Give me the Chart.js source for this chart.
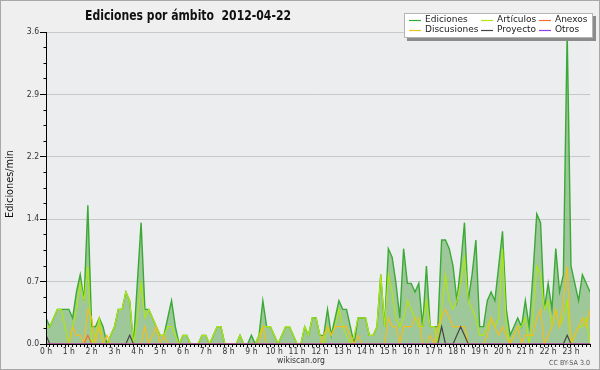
<!DOCTYPE html>
<html>
<head>
<meta charset="utf-8">
<script src="https://cdn.jsdelivr.net/npm/chart.js@4.4.1/dist/chart.umd.min.js"></script>
<style>
  html, body { margin: 0; padding: 0; background: #efefef; }
  #wrap { width: 600px; height: 370px; }
</style>
</head>
<body>
<div id="wrap"><canvas id="chart" width="600" height="370"></canvas></div>
<script>
// one value per 10 minutes, 2012-04-22 00:00 -> 23:50 (edits/min)
const ediciones = [
  0.3, 0.2, 0.3, 0.4, 0.4, 0.4, 0.4, 0.3, 0.6, 0.8, 0.5, 1.6,
  0.2, 0.2, 0.3, 0.2, 0.0, 0.1, 0.2, 0.4, 0.4, 0.6, 0.5, 0.0,
  0.7, 1.4, 0.4, 0.4, 0.3, 0.2, 0.1, 0.1, 0.3, 0.5, 0.2, 0.0,
  0.1, 0.1, 0.0, 0.0, 0.0, 0.1, 0.1, 0.0, 0.1, 0.2, 0.2, 0.0,
  0.0, 0.0, 0.0, 0.1, 0.0, 0.0, 0.1, 0.0, 0.1, 0.5, 0.2, 0.2,
  0.1, 0.0, 0.1, 0.2, 0.2, 0.1, 0.0, 0.0, 0.2, 0.1, 0.3, 0.3,
  0.1, 0.1, 0.4, 0.1, 0.3, 0.5, 0.4, 0.4, 0.2, 0.0, 0.3, 0.3,
  0.3, 0.1, 0.1, 0.2, 0.8, 0.2, 1.1, 1.0, 0.7, 0.3, 1.1, 0.7,
  0.7, 0.6, 0.7, 0.2, 0.9, 0.2, 0.2, 0.2, 1.2, 1.2, 1.1, 0.9,
  0.5, 0.9, 1.4, 0.5, 0.8, 1.2, 0.2, 0.2, 0.5, 0.6, 0.5, 0.9,
  1.3, 0.4, 0.1, 0.2, 0.3, 0.2, 0.5, 0.2, 0.8, 1.5, 1.4, 0.4,
  0.7, 0.4, 1.1, 0.6, 0.8, 3.6, 0.9, 0.7, 0.5, 0.8, 0.7, 0.6
];
const articulos = [
  0.2, 0.2, 0.3, 0.4, 0.4, 0.2, 0.0, 0.2, 0.4, 0.7, 0.5, 0.9,
  0.0, 0.1, 0.3, 0.0, 0.0, 0.1, 0.2, 0.4, 0.4, 0.6, 0.5, 0.0,
  0.3, 0.7, 0.3, 0.4, 0.3, 0.2, 0.1, 0.1, 0.2, 0.2, 0.1, 0.0,
  0.1, 0.1, 0.0, 0.0, 0.0, 0.1, 0.1, 0.0, 0.1, 0.2, 0.2, 0.0,
  0.0, 0.0, 0.0, 0.1, 0.0, 0.0, 0.0, 0.0, 0.1, 0.2, 0.2, 0.2,
  0.1, 0.0, 0.1, 0.2, 0.2, 0.1, 0.0, 0.0, 0.2, 0.1, 0.3, 0.3,
  0.1, 0.0, 0.2, 0.1, 0.2, 0.4, 0.2, 0.1, 0.0, 0.1, 0.3, 0.3,
  0.3, 0.1, 0.1, 0.2, 0.8, 0.2, 0.8, 0.6, 0.3, 0.2, 0.3, 0.5,
  0.4, 0.3, 0.2, 0.2, 0.5, 0.2, 0.2, 0.0, 0.4, 0.8, 0.5, 0.4,
  0.5, 0.7, 1.0, 0.5, 0.4, 0.3, 0.1, 0.1, 0.2, 0.3, 0.2, 0.3,
  1.1, 0.2, 0.0, 0.1, 0.2, 0.2, 0.3, 0.0, 0.3, 0.9, 0.8, 0.4,
  0.5, 0.2, 0.4, 0.2, 0.3, 0.5, 0.0, 0.1, 0.2, 0.2, 0.3, 0.0
];
const anexos = [
  0, 0, 0, 0, 0, 0, 0, 0, 0, 0, 0, 0.1,
  0, 0, 0, 0, 0, 0, 0, 0, 0, 0, 0, 0,
  0, 0, 0, 0, 0, 0, 0, 0, 0, 0, 0, 0,
  0, 0, 0, 0, 0, 0, 0, 0, 0, 0, 0, 0,
  0, 0, 0, 0, 0, 0, 0, 0, 0, 0, 0, 0,
  0, 0, 0, 0, 0, 0, 0, 0, 0, 0, 0, 0,
  0, 0, 0, 0, 0, 0, 0, 0, 0, 0, 0, 0,
  0, 0, 0, 0, 0, 0, 0, 0, 0, 0, 0, 0,
  0, 0, 0, 0, 0, 0, 0, 0, 0, 0, 0, 0,
  0, 0, 0, 0, 0, 0, 0, 0, 0, 0, 0, 0,
  0, 0, 0, 0, 0, 0, 0, 0, 0, 0, 0, 0,
  0, 0, 0, 0, 0, 0, 0, 0, 0, 0, 0, 0
];
const discusiones = [
  0, 0, 0, 0, 0, 0, 0, 0.2, 0.1, 0.1, 0, 0.4,
  0.3, 0, 0.2, 0, 0.1, 0, 0, 0, 0, 0, 0, 0,
  0, 0, 0.2, 0, 0.1, 0.2, 0, 0.1, 0, 0, 0, 0,
  0, 0, 0, 0, 0, 0, 0, 0, 0, 0, 0, 0,
  0, 0, 0, 0, 0, 0, 0, 0, 0, 0.2, 0, 0,
  0, 0, 0, 0, 0, 0, 0, 0, 0, 0, 0, 0,
  0, 0.1, 0.2, 0.1, 0.2, 0.2, 0.2, 0.2, 0.1, 0, 0.1, 0,
  0, 0, 0, 0, 0, 0, 0.3, 0.2, 0.2, 0, 0.2, 0.2,
  0.2, 0.3, 0.3, 0, 0, 0.1, 0, 0.2, 0.3, 0.4, 0.3, 0.2,
  0.2, 0.2, 0.2, 0, 0, 0, 0, 0, 0.1, 0.3, 0.2, 0.1,
  0.2, 0.1, 0, 0.1, 0.2, 0, 0.1, 0.1, 0.1, 0.3, 0.4, 0,
  0.1, 0.2, 0.4, 0.2, 0.5, 0.9, 0, 0.1, 0.2, 0.3, 0.2, 0.4
];
const proyecto = [
  0.1, 0, 0, 0, 0, 0, 0, 0, 0, 0, 0, 0,
  0, 0, 0, 0, 0, 0, 0, 0, 0, 0, 0.1, 0,
  0, 0, 0, 0, 0, 0, 0, 0, 0, 0, 0, 0,
  0, 0, 0, 0, 0, 0, 0, 0, 0, 0, 0, 0,
  0, 0, 0, 0, 0, 0, 0, 0, 0, 0, 0, 0,
  0, 0, 0, 0, 0, 0, 0, 0, 0, 0, 0, 0,
  0, 0, 0, 0, 0, 0, 0, 0, 0, 0, 0, 0,
  0, 0, 0, 0, 0, 0, 0, 0, 0, 0, 0, 0,
  0, 0, 0, 0, 0, 0, 0, 0, 0.2, 0, 0, 0,
  0.1, 0.2, 0.1, 0, 0, 0, 0, 0, 0, 0, 0, 0,
  0, 0, 0, 0, 0, 0, 0, 0, 0, 0, 0, 0,
  0, 0, 0, 0, 0, 0.1, 0, 0, 0, 0, 0, 0
];
const otros = [
  0, 0, 0, 0, 0, 0, 0, 0, 0, 0, 0, 0,
  0, 0, 0, 0, 0, 0, 0, 0, 0, 0, 0, 0,
  0, 0, 0, 0, 0, 0, 0, 0, 0, 0, 0, 0,
  0, 0, 0, 0, 0, 0, 0, 0, 0, 0, 0, 0,
  0, 0, 0, 0, 0, 0, 0, 0, 0, 0, 0, 0,
  0, 0, 0, 0, 0, 0, 0, 0, 0, 0, 0, 0,
  0, 0, 0, 0, 0, 0, 0, 0, 0, 0, 0, 0,
  0, 0, 0, 0, 0, 0, 0, 0, 0, 0, 0, 0,
  0, 0, 0, 0, 0, 0, 0, 0, 0, 0, 0, 0,
  0, 0, 0, 0, 0, 0, 0, 0, 0, 0, 0, 0,
  0, 0, 0, 0, 0, 0, 0, 0, 0, 0, 0, 0,
  0, 0, 0, 0, 0, 0, 0, 0, 0, 0, 0, 0
];

const hourLabels = ['0 h', '1 h', '2 h', '3 h', '4 h', '5 h', '6 h', '7 h', '8 h', '9 h', '10 h', '11 h',
  '12 h', '13 h', '14 h', '15 h', '16 h', '17 h', '18 h', '19 h', '20 h', '21 h', '22 h', '23 h'];
const yTicks = [0, 0.72, 1.44, 2.16, 2.88, 3.6];
const yTickLabels = ['0.0', '0.7', '1.4', '2.2', '2.9', '3.6'];

const seriesNames = ['Ediciones', 'Artículos', 'Anexos', 'Discusiones', 'Proyecto', 'Otros'];
const seriesColors = ['#3aa935', '#aee610', '#f07038', '#f0be1e', '#464646', '#9a3ce6'];

const FONT = "'DejaVu Sans Condensed', 'DejaVu Sans', sans-serif";
Chart.defaults.font.family = FONT;

const slots = ediciones.map((v, i) => i);
const pts = (arr) => arr.map((v, i) => ({ x: i, y: v }));

// squeeze a text to a given width (the original uses a narrow font)
function fitText(ctx, text, x, y, w) {
  const m = ctx.measureText(text).width;
  ctx.save();
  ctx.translate(x, y);
  ctx.scale(Math.min(1.15, w / m), 1);
  ctx.fillText(text, 0, 0);
  ctx.restore();
}

const decor = {
  id: 'decor',
  beforeDraw(chart) {
    const { ctx, chartArea: a } = chart;
    ctx.save();
    ctx.fillStyle = '#efefef';
    ctx.fillRect(0, 0, chart.width, chart.height);
    ctx.fillStyle = '#ecedef';
    ctx.fillRect(a.left, a.top, a.right - a.left, a.bottom - a.top);
    ctx.restore();
  },
  afterDatasetsDraw(chart) {
    const { ctx, chartArea: a, scales: { y } } = chart;
    const L = Math.round(a.left - 0.5) + 0.5;
    const B = Math.round(a.bottom - 0.5) + 0.5;
    ctx.save();
    ctx.strokeStyle = '#000';
    ctx.lineWidth = 1;
    ctx.beginPath();
    ctx.moveTo(L, a.top);
    ctx.lineTo(L, B);
    ctx.lineTo(a.right, B);
    // minor ticks on y
    for (let k = 0; k < yTicks.length - 1; k++) {
      const step = (yTicks[k + 1] - yTicks[k]) / 4;
      for (let j = 1; j < 4; j++) {
        const py = Math.round(y.getPixelForValue(yTicks[k] + j * step) - 0.5) + 0.5;
        ctx.moveTo(L - 3, py);
        ctx.lineTo(L, py);
      }
    }
    ctx.stroke();
    ctx.restore();
  },
  afterDraw(chart) {
    const { ctx } = chart;
    ctx.save();
    // title
    ctx.fillStyle = '#111';
    ctx.textBaseline = 'alphabetic';
    ctx.font = "bold 14px 'DejaVu Sans', sans-serif";
    fitText(ctx, 'Ediciones por ámbito  2012-04-22', 85, 19.5, 206);

    // y title
    ctx.save();
    ctx.translate(13, 218);
    ctx.rotate(-Math.PI / 2);
    ctx.font = "10px 'DejaVu Sans', sans-serif";
    fitText(ctx, 'Ediciones/min', 0, 0, 68);
    ctx.restore();

    // footer
    ctx.fillStyle = '#333';
    ctx.font = "9px 'DejaVu Sans', sans-serif";
    fitText(ctx, 'wikiscan.org', 277, 363, 48);
    ctx.fillStyle = '#555';
    ctx.font = "7px 'DejaVu Sans', sans-serif";
    fitText(ctx, 'CC BY-SA 3.0', 549, 365, 41);

    // legend
    ctx.fillStyle = '#8c8c8c';
    ctx.fillRect(407, 16, 189, 25);
    ctx.fillStyle = '#ffffff';
    ctx.fillRect(404, 13, 189, 25);
    ctx.strokeStyle = '#b4b4b4';
    ctx.lineWidth = 1;
    ctx.strokeRect(404.5, 13.5, 188, 24);
    const cols = [409, 481, 539];
    const rows = [20, 29.5];
    ctx.font = "9px 'DejaVu Sans', sans-serif";
    ctx.textBaseline = 'middle';
    seriesNames.forEach((name, k) => {
      const cx = cols[k % 3];
      const cy = rows[Math.floor(k / 3)];
      ctx.strokeStyle = seriesColors[k];
      ctx.lineWidth = 1.2;
      ctx.beginPath();
      ctx.moveTo(cx, Math.round(cy) + 0.5);
      ctx.lineTo(cx + 12, Math.round(cy) + 0.5);
      ctx.stroke();
      ctx.fillStyle = '#222';
      ctx.fillText(name, cx + 16, cy);
    });

    // frame
    ctx.strokeStyle = '#a8a8a8';
    ctx.lineWidth = 1;
    ctx.strokeRect(0.5, 0.5, chart.width - 1, chart.height - 1);
    ctx.restore();
  }
};

const data = {
  datasets: [
    { label: 'Ediciones', data: pts(ediciones), borderColor: seriesColors[0],
      backgroundColor: 'rgba(67,155,52,0.45)', fill: 'origin', borderWidth: 1.4, order: 6 },
    { label: 'Artículos', data: pts(articulos), borderColor: seriesColors[1], fill: false, borderWidth: 1.2, order: 5 },
    { label: 'Anexos', data: pts(anexos), borderColor: seriesColors[2], fill: false, borderWidth: 1.2, order: 2 },
    { label: 'Discusiones', data: pts(discusiones), borderColor: seriesColors[3], fill: false, borderWidth: 1.2, order: 4 },
    { label: 'Proyecto', data: pts(proyecto), borderColor: seriesColors[4], fill: false, borderWidth: 1.2, order: 3 },
    { label: 'Otros', data: pts(otros), borderColor: seriesColors[5], fill: false, borderWidth: 1.2, order: 1 },
  ],
};

const config = {
  type: 'line',
  data,
  options: {
    responsive: false,
    animation: false,
    layout: { padding: { left: 0, top: 32, right: 10, bottom: 0 } },
    elements: { point: { radius: 0 }, line: { tension: 0 } },
    plugins: { legend: { display: false }, title: { display: false }, tooltip: { enabled: false } },
    scales: {
      x: {
        type: 'linear',
        min: 0,
        max: slots[slots.length - 1],
        afterBuildTicks(scale) { scale.ticks = slots.map((v) => ({ value: v })); },
        afterFit(scale) { scale.height = 26; },
        grid: { drawOnChartArea: false, drawTicks: true, tickLength: 3, tickColor: '#000' },
        border: { display: true, color: '#000' },
        ticks: {
          autoSkip: false, maxRotation: 0, minRotation: 0, padding: 0,
          color: '#333', font: { size: 8.5 },
          callback: (v) => (v % 6 === 0 ? hourLabels[v / 6] : ''),
        },
      },
      y: {
        min: 0,
        max: 3.6,
        afterBuildTicks(scale) { scale.ticks = yTicks.map((v) => ({ value: v })); },
        afterFit(scale) { scale.width = 46; },
        grid: { color: '#c8c8c8', tickColor: '#000', tickLength: 6 },
        border: { display: true, color: '#000' },
        ticks: { padding: 1, color: '#333', font: { size: 8.5 }, callback: (v, i) => yTickLabels[i] },
      },
    },
  },
  plugins: [decor],
};

new Chart(document.getElementById('chart'), config);
</script>
</body>
</html>
